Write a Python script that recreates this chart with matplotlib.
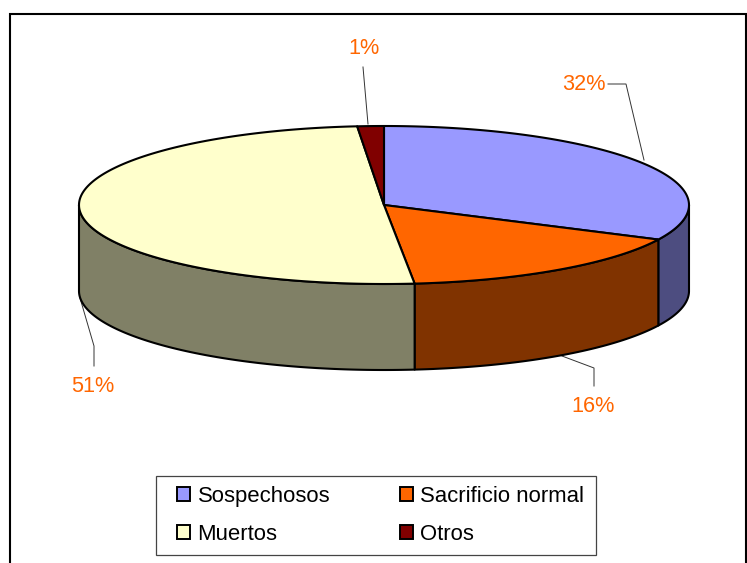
import numpy as np
import matplotlib
matplotlib.use("Agg")
import matplotlib.pyplot as plt
from matplotlib.patches import Polygon, Rectangle, Patch

categories = ["Sospechosos", "Sacrificio normal", "Muertos", "Otros"]
values = [32.2, 16.2, 50.2, 1.4]
pct_labels = ["32%", "16%", "51%", "1%"]
top_colors = ["#9999FF", "#FF6600", "#FFFFCC", "#800000"]
side_colors = ["#4D4D80", "#803300", "#808066", "#400000"]
label_color = "#FF6600"

plt.rcParams["font.family"] = ["Liberation Sans", "DejaVu Sans"]

fig = plt.figure(figsize=(7.47, 5.63), dpi=100, facecolor="white")
ax = fig.add_axes([0, 0, 1, 1])
ax.set_xlim(0, 747)
ax.set_ylim(563, 0)
ax.axis("off")

ax.add_patch(Rectangle((9.5, 14), 736.5, 560, fc="white", ec="black", lw=1.5, zorder=0))

CX, CY, RX, RY, DEPTH = 384.0, 205.0, 305.0, 79.0, 86.0
LW = 1.5


def arc(t0, t1, dy=0.0):
    t = np.radians(np.linspace(t0, t1, max(int(abs(t1 - t0) * 2), 2)))
    return np.column_stack([CX + RX * np.sin(t), CY - RY * np.cos(t) + dy])


edges = np.concatenate([[0], np.cumsum(values)]) / np.sum(values) * 360

# side walls: only the part of each slice on the front half of the ellipse
for i in range(len(values)):
    a, b = max(edges[i], 90), min(edges[i + 1], 270)
    if b > a:
        pts = np.vstack([arc(a, b), arc(a, b, DEPTH)[::-1]])
        ax.add_patch(Polygon(pts, closed=True, fc=side_colors[i], ec="black",
                             lw=LW, joinstyle="round", zorder=2))

# top faces
for i in range(len(values)):
    pts = np.vstack([[CX, CY], arc(edges[i], edges[i + 1])])
    ax.add_patch(Polygon(pts, closed=True, fc=top_colors[i], ec="black",
                         lw=LW, joinstyle="round", zorder=3))

# leader lines and percentage labels
leaders = [
    ([608, 626, 644], [84, 84, 160]),
    ([594, 594, 562], [386, 368, 356]),
    ([94, 94, 80], [366, 346, 298]),
    ([363, 368], [67, 124]),
]
label_pos = [(583.5, 85), (593.5, 406), (93, 386), (363.5, 48)]
for (xs, ys), (lx, ly), s in zip(leaders, label_pos, pct_labels):
    ax.plot(xs, ys, color="#333333", lw=0.7, zorder=1.5, solid_joinstyle="miter")
    ax.text(lx, ly, s, color=label_color, fontsize=15.6, ha="center", va="center", zorder=5)

ax.add_patch(Rectangle((155.5, 476), 440.5, 79, fc="white", ec="#444444", lw=0.9, zorder=4))

handles = [Patch(fc=c, ec="black", lw=1.4) for c in top_colors]
order = [0, 2, 1, 3]
leg = ax.legend([handles[i] for i in order], [categories[i] for i in order],
                ncol=2, loc="upper left", bbox_to_anchor=(177, 486),
                bbox_transform=ax.transData, fontsize=15.9, frameon=False,
                handlelength=0.6, handleheight=0.6, handletextpad=0.33,
                columnspacing=3.15, labelspacing=0.76, borderpad=0, borderaxespad=0)
leg.set_zorder(6)

fig.savefig("out.png", dpi=100)
